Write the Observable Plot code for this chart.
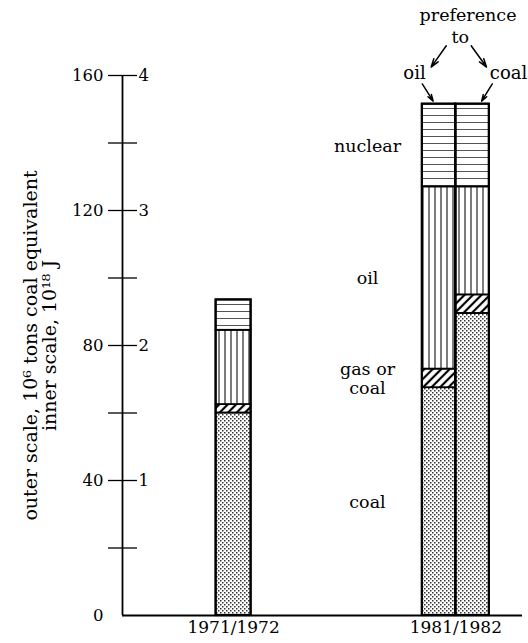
<!DOCTYPE html>
<html><head><meta charset="utf-8">
<script src="https://cdn.jsdelivr.net/npm/d3@7"></script>
<script src="https://cdn.jsdelivr.net/npm/@observablehq/plot@0.6"></script>
<style>body{margin:0;background:#fff}</style>
</head><body><div id="chart"></div>
<script>
// ---- data ----
const periods = ["1971/1972", "1981/1982"];
const bars = ["1971/1972", "1981/1982, preference to oil", "1981/1982, preference to coal"];
const barPeriod = ["1971/1972", "1981/1982", "1981/1982"];
const layers = ["coal", "gas or coal", "oil", "nuclear"];
const coal = [60, 67.5, 89.5];
const gasOrCoal = [2.5, 5.5, 5.5];
const oil = [22, 54, 32];
const nuclear = [9, 24.5, 24.5];
const outerTicks = [0, 40, 80, 120, 160];
const innerTicks = [1, 2, 3, 4];
const minorTicks = [20, 60, 100, 140];
const preferenceLabels = ["oil", "coal"];
const yTitle = ["outer scale, 10\u2076 tons coal equivalent", "inner scale, 10\u00b9\u2078 J"];

// ---- layout helpers ----
const W = 528, H = 643, mL = 122, mR = 6, mT = 75, mB = 28;
const xDomain = [1966.5, 1984.5];
const ppx = (W - mL - mR) / (xDomain[1] - xDomain[0]);
const x0 = xDomain[0];
const center = p => d3.mean(p.split("/").map(Number));
const values = {"coal": coal, "gas or coal": gasOrCoal, "oil": oil, "nuclear": nuclear};

const rows = [], outlines = [];
bars.forEach((b, i) => {
  const p = barPeriod[i];
  const group = bars.filter((_, j) => barPeriod[j] === p);
  const k = group.indexOf(b), n = group.length;
  const w = n === 1 ? 35 / ppx : 67 / ppx;
  const c = center(p);
  const xa = c - w / 2 + k * w / n, xb = xa + w / n;
  let y = 0;
  layers.forEach(l => {
    const v = values[l][i];
    rows.push({bar: b, layer: l, x1: xa, x2: xb, y1: y, y2: y + v});
    y += v;
  });
  outlines.push({x1: xa, x2: xb, y1: 0, y2: y});
});

// label positions: middle of each layer in the "preference to oil" bar
const refBar = 1;
const layerMid = l => { const r = rows.find(d => d.bar === bars[refBar] && d.layer === l); return (r.y1 + r.y2) / 2; };
const labelX = x0 + 245 / ppx;

const c2 = center(periods[1]);
const top2 = outlines[1].y2;
const arrows = [
  {x1: c2 - 0.43, y1: top2 + 17.3, x2: c2 - 1.11, y2: top2 + 11.0},
  {x1: c2 + 0.69, y1: top2 + 17.3, x2: c2 + 1.38, y2: top2 + 11.0},
  {x1: c2 - 1.51, y1: top2 + 6.0, x2: c2 - 1.02, y2: top2 + 0.9},
  {x1: c2 + 1.64, y1: top2 + 6.0, x2: c2 + 1.16, y2: top2 + 0.9}
];
const prefPos = [{x: c2 - 1.86, y: top2 + 9.2}, {x: c2 + 2.37, y: top2 + 9.2}];

const patIds = ["pat-coal", "pat-gas", "pat-oil", "pat-nuclear"];

const svg = Plot.plot({
  width: W, height: H,
  marginLeft: mL, marginRight: mR, marginTop: mT, marginBottom: mB,
  style: {fontFamily: "DejaVu Serif", fontSize: "16px", background: "white", color: "black", overflow: "visible"},
  x: {domain: xDomain, axis: null},
  y: {domain: [0, 160], axis: null},
  color: {type: "ordinal", domain: layers, range: patIds.map(id => `url(#${id})`)},
  marks: [
    Plot.rect(rows, {x1: "x1", x2: "x2", y1: "y1", y2: "y2", fill: "layer", stroke: "black", strokeWidth: 1.8}),
    Plot.rect(outlines, {x1: "x1", x2: "x2", y1: "y1", y2: "y2", fill: "none", stroke: "black", strokeWidth: 2.2}),
    // axes
    Plot.ruleX([x0], {y1: 0, y2: 160, stroke: "black", strokeWidth: 1.8}),
    Plot.ruleY([0], {x1: x0, x2: xDomain[1], stroke: "black", strokeWidth: 1.8}),
    Plot.ruleY([...minorTicks, ...outerTicks.filter(d => d > 0)], {y: d => d, x1: x0 - 14 / ppx, x2: x0 + 15 / ppx, stroke: "black", strokeWidth: 1.3}),
    Plot.text(outerTicks, {y: d => d, text: d => String(d), frameAnchor: "left", textAnchor: "end", dx: -19, fontSize: 16.5}),
    Plot.text(innerTicks, {y: d => d * 40, text: d => String(d), frameAnchor: "left", textAnchor: "start", dx: 16, fontSize: 16.5}),
    Plot.text(periods, {x: center, text: d => d, frameAnchor: "bottom", dy: 17, fontSize: 17}),
    Plot.text([yTitle[0]], {frameAnchor: "left", textAnchor: "middle", rotate: -90, dx: -92, fontSize: 19}),
    Plot.text([yTitle[1]], {frameAnchor: "left", textAnchor: "middle", rotate: -90, dx: -73, fontSize: 19}),
    // layer labels
    Plot.text(layers, {x: labelX, y: layerMid, text: d => d === "gas or coal" ? "gas or\ncoal" : d, lineHeight: 1.1, fontSize: 17.5}),
    // annotation
    Plot.text(["preference"], {x: c2 + 0.55, y: top2 + 26.3, fontSize: 17.5}),
    Plot.text(["to"], {x: c2 + 0.2, y: top2 + 19.9, fontSize: 17.5}),
    Plot.text(preferenceLabels, {x: (d, i) => prefPos[i].x, y: (d, i) => prefPos[i].y, text: d => d, fontSize: 18}),
    Plot.arrow(arrows, {x1: "x1", y1: "y1", x2: "x2", y2: "y2", headLength: 9, headAngle: 35, strokeWidth: 1.5, stroke: "black"})
  ]
});

const defs = document.createElementNS("http://www.w3.org/2000/svg", "defs");
defs.innerHTML = `
<pattern id="pat-coal" patternUnits="userSpaceOnUse" width="4" height="4">
  <rect width="4" height="4" fill="white"/>
  <rect x="0" y="0" width="1.5" height="1.5" fill="#333"/>
  <rect x="2" y="2" width="1.5" height="1.5" fill="#333"/>
</pattern>
<pattern id="pat-gas" patternUnits="userSpaceOnUse" width="6" height="6" patternTransform="rotate(45)">
  <rect width="6" height="6" fill="white"/>
  <line x1="3" y1="0" x2="3" y2="6" stroke="black" stroke-width="2.2"/>
</pattern>
<pattern id="pat-oil" patternUnits="userSpaceOnUse" width="6" height="6">
  <rect width="6" height="6" fill="white"/>
  <line x1="3" y1="0" x2="3" y2="6" stroke="#111" stroke-width="1.1"/>
</pattern>
<pattern id="pat-nuclear" patternUnits="userSpaceOnUse" width="7" height="7">
  <rect width="7" height="7" fill="white"/>
  <line x1="0" y1="3.5" x2="7" y2="3.5" stroke="#555" stroke-width="1"/>
</pattern>`;
svg.insertBefore(defs, svg.firstChild);
document.getElementById("chart").appendChild(svg);
</script>
</body></html>
